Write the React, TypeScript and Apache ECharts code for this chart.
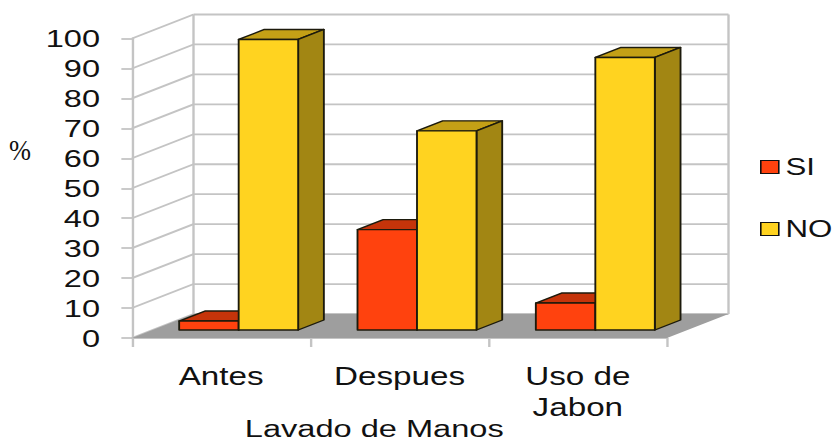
import React, { useEffect, useRef } from "react";
import * as echarts from "echarts";

// Survey results: share of respondents per hand-washing question.
const categories = ["Antes", "Despues", "Uso de\nJabon"];
const siValues = [3, 33.5, 9];
const noValues = [97, 66.5, 91];
const wallTicks = [0, 10, 20, 30, 40, 50, 60, 70, 80, 90, 100];
const xAxisTitle = "Lavado de Manos";
const yAxisTitle = "%";

const WIDTH = 835;
const HEIGHT = 441;
// The chart is laid out on a narrower canvas and widened as a whole,
// which gives the broad lettering and heavier vertical strokes.
const INNER_WIDTH = 628;
const STRETCH = WIDTH / INNER_WIDTH;
const px = (x: number) => x / STRETCH;

const FONT = "Liberation Sans";
const GRID_LEFT = px(132);
const GRID_RIGHT = px(667);
const WALL_DX = px(61.5);
const WALL_DY = -24;
const BAR_W = px(59.5);
const BAR_SHIFT_X = px(17.5);
const BAR_SHIFT_Y = -8;
const BAR_DX = px(25.7);
const BAR_DY = -10;

const WALL_COLOR = "#c4c4c4";
const FLOOR_COLOR = "#9e9e9e";
const EDGE = "#1c1a0c";

function wallRenderer(params: any, api: any) {
  const v = api.value(0);
  const sys = params.coordSys;
  const left = sys.x;
  const right = sys.x + sys.width;
  const y = api.coord([0, v])[1];
  const line = { stroke: WALL_COLOR, lineWidth: 1.8, fill: "none" };
  const children: any[] = [
    { type: "line", shape: { x1: left, y1: y, x2: left + WALL_DX, y2: y + WALL_DY }, style: line },
    { type: "line", shape: { x1: left + WALL_DX, y1: y + WALL_DY, x2: right + WALL_DX, y2: y + WALL_DY }, style: line },
  ];
  if (v === wallTicks[wallTicks.length - 1]) {
    const bottom = sys.y + sys.height + WALL_DY;
    children.push(
      { type: "line", shape: { x1: left + WALL_DX, y1: y + WALL_DY, x2: left + WALL_DX, y2: bottom }, style: line },
      { type: "line", shape: { x1: right + WALL_DX, y1: y + WALL_DY, x2: right + WALL_DX, y2: bottom }, style: line },
    );
  }
  if (v === wallTicks[0]) {
    children.push({
      type: "polygon",
      shape: {
        points: [
          [left, y],
          [right, y],
          [right + WALL_DX, y + WALL_DY],
          [left + WALL_DX, y + WALL_DY],
        ],
      },
      style: { fill: FLOOR_COLOR, stroke: "none" },
    });
  }
  return { type: "group", children };
}

// Builds one extruded bar: front face plus shaded top and side faces.
function barRenderer(slot: number, front: string, top: string, side: string) {
  return (_params: any, api: any) => {
    const cat = api.value(0);
    const val = api.value(1);
    const [cx, yTop] = api.coord([cat, val]);
    const yBase = api.coord([cat, 0])[1] + BAR_SHIFT_Y;
    const y1 = yTop + BAR_SHIFT_Y;
    const x0 = cx + BAR_SHIFT_X + slot * BAR_W;
    const x1 = x0 + BAR_W;
    const edge = { stroke: EDGE, lineWidth: 1.4, lineJoin: "round" };
    return {
      type: "group",
      children: [
        {
          type: "polygon",
          shape: { points: [[x0, y1], [x1, y1], [x1 + BAR_DX, y1 + BAR_DY], [x0 + BAR_DX, y1 + BAR_DY]] },
          style: { fill: top, ...edge },
        },
        {
          type: "polygon",
          shape: { points: [[x1, y1], [x1 + BAR_DX, y1 + BAR_DY], [x1 + BAR_DX, yBase + BAR_DY], [x1, yBase]] },
          style: { fill: side, ...edge },
        },
        {
          type: "rect",
          shape: { x: x0, y: y1, width: BAR_W, height: yBase - y1 },
          style: { fill: front, ...edge },
        },
      ],
    };
  };
}

export default function App() {
  const ref = useRef<HTMLDivElement>(null);

  useEffect(() => {
    document.body.style.margin = "0";
    const chart = echarts.init(ref.current!, undefined, { renderer: "svg" });
    chart.setOption({
      animation: false,
      backgroundColor: "#ffffff",
      textStyle: { fontFamily: FONT },
      grid: {
        left: GRID_LEFT,
        right: INNER_WIDTH - GRID_RIGHT,
        top: 38.5,
        bottom: HEIGHT - 338,
        outerBoundsMode: "none",
      },
      legend: {
        orient: "vertical",
        left: px(760),
        top: 155,
        padding: 0,
        itemWidth: px(18),
        itemHeight: 13,
        itemGap: 38,
        data: [
          { name: "SI", icon: "rect", itemStyle: { color: "#ff420e", borderColor: "#111", borderWidth: 1.2 } },
          { name: "NO", icon: "rect", itemStyle: { color: "#ffd320", borderColor: "#111", borderWidth: 1.2 } },
        ],
        textStyle: { fontFamily: FONT, fontSize: 23.5, color: "#111" },
      },
      xAxis: {
        type: "category",
        data: categories,
        boundaryGap: true,
        name: xAxisTitle,
        nameLocation: "middle",
        nameGap: 78,
        nameMoveOverlap: false,
        nameTextStyle: { fontFamily: FONT, fontSize: 24.5, color: "#111", padding: [0, 38, 0, 0] },
        axisLine: { lineStyle: { color: WALL_COLOR, width: 1.8 } },
        axisTick: { show: true, alignWithLabel: false, length: 9, lineStyle: { color: WALL_COLOR, width: 1.8 } },
        axisLabel: { fontFamily: FONT, fontSize: 25, color: "#111", margin: 23, lineHeight: 31 },
        splitLine: { show: false },
      },
      yAxis: {
        type: "value",
        min: 0,
        max: 100,
        interval: 10,
        axisLine: { show: true, lineStyle: { color: WALL_COLOR, width: 1.8 } },
        axisTick: { show: true, length: 8, lineStyle: { color: WALL_COLOR, width: 1.8 } },
        axisLabel: { fontFamily: FONT, fontSize: 24.5, color: "#111", margin: 24 },
        splitLine: { show: false },
      },
      graphic: [
        {
          type: "text",
          x: px(9),
          y: 135,
          scaleX: 0.88 / STRETCH,
          style: { text: yAxisTitle, fontFamily: "Liberation Serif", fontSize: 30, fill: "#111" },
        },
      ],
      series: [
        {
          type: "custom",
          name: "wall",
          renderItem: wallRenderer,
          data: wallTicks.map((v) => [v]),
          encode: { y: 0 },
          silent: true,
          z: 1,
        },
        {
          type: "custom",
          name: "SI",
          renderItem: barRenderer(-1, "#ff420e", "#c5340a", "#a82c08"),
          data: siValues.map((v, i) => [i, v]),
          encode: { x: 0, y: 1 },
          itemStyle: { color: "#ff420e" },
          z: 2,
        },
        {
          type: "custom",
          name: "NO",
          renderItem: barRenderer(0, "#ffd320", "#c4a016", "#a28613"),
          data: noValues.map((v, i) => [i, v]),
          encode: { x: 0, y: 1 },
          itemStyle: { color: "#ffd320" },
          z: 3,
        },
      ],
    });
    return () => chart.dispose();
  }, []);

  return (
    <div style={{ width: WIDTH, height: HEIGHT, overflow: "hidden" }}>
      <div
        ref={ref}
        style={{
          width: INNER_WIDTH,
          height: HEIGHT,
          transform: `scaleX(${STRETCH})`,
          transformOrigin: "0 0",
        }}
      />
    </div>
  );
}
